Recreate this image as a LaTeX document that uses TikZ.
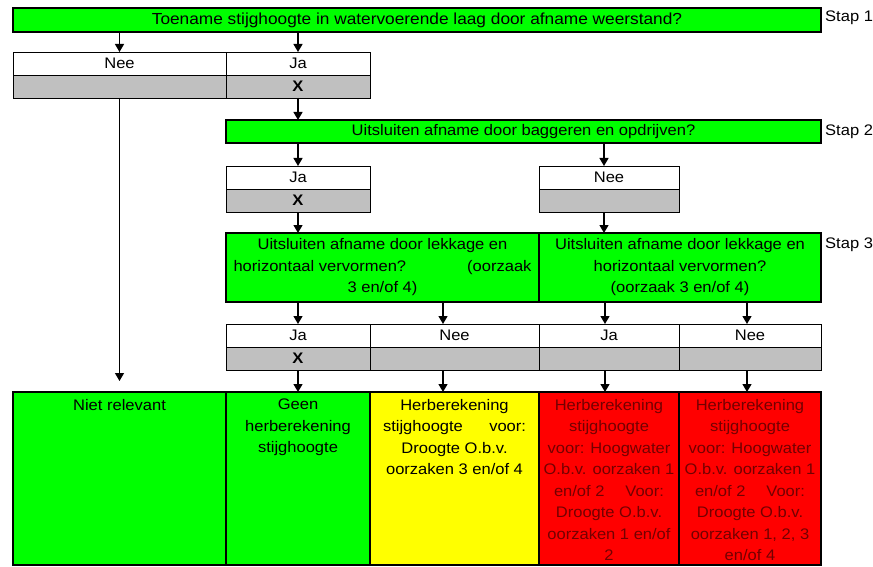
\documentclass[tikz,border=0pt]{standalone}
\usepackage{fontspec}
\setmainfont{Liberation Sans}[FakeStretch=1.08]
\usetikzlibrary{arrows.meta}
\definecolor{xlgreen}{RGB}{0,255,0}
\definecolor{xlyellow}{RGB}{255,255,0}
\definecolor{xlred}{RGB}{255,0,0}
\definecolor{xlgray}{RGB}{192,192,192}
\definecolor{xldarkred}{RGB}{115,0,0}
\begin{document}
\begin{tikzpicture}[x=1pt,y=-1pt,
  font=\fontsize{15.3}{21.5}\selectfont,
  cell/.style={draw, line width=0.9pt, inner sep=0pt, outer sep=0pt, anchor=north west},
  thickcell/.style={cell, line width=2.6pt},
  thickframe/.style={draw, line width=2.6pt},
  arr/.style={-{Triangle[length=8pt,width=9pt]}, line width=1.3pt},
  lbl/.style={anchor=west, inner sep=0pt},
  celltext/.style={anchor=north, inner sep=0pt, align=center},
]
\useasboundingbox (0,0) rectangle (873,567);

% Stap 1
\node[thickcell, fill=xlgreen, minimum width=808pt, minimum height=24pt] (q1) at (13,8) {\fontsize{16}{21.5}\selectfont Toename stijghoogte in watervoerende laag door afname weerstand?};
\node[lbl] (s1) at (825,18) {Stap 1};

\node[cell, fill=white, minimum width=213pt, minimum height=23pt] (nee1) at (13,52) {Nee};
\node[cell, fill=white, minimum width=144pt, minimum height=23pt] (ja1) at (226,52) {Ja};
\node[cell, fill=xlgray, minimum width=213pt, minimum height=23pt] (nee1g) at (13,75) {};
\node[cell, fill=xlgray, minimum width=144pt, minimum height=23pt] (ja1g) at (226,75) {\textbf{X}};

% Stap 2
\node[thickcell, fill=xlgreen, minimum width=595pt, minimum height=23pt] (q2) at (226,120) {Uitsluiten afname door baggeren en opdrijven?};
\node[lbl] (s2) at (825,132) {Stap 2};

\node[cell, fill=white, minimum width=144pt, minimum height=23pt] (ja2) at (226,166) {Ja};
\node[cell, fill=xlgray, minimum width=144pt, minimum height=23pt] (ja2g) at (226,189) {\textbf{X}};
\node[cell, fill=white, minimum width=140pt, minimum height=23pt] (nee2) at (539,166) {Nee};
\node[cell, fill=xlgray, minimum width=140pt, minimum height=23pt] (nee2g) at (539,189) {};

% Stap 3
\node[cell, line width=1.3pt, fill=xlgreen, minimum width=313pt, minimum height=69pt, align=center] (q3a) at (226,233)
  {Uitsluiten afname door lekkage en\\ \makebox[298pt]{horizontaal vervormen?\hfill(oorzaak}\\ 3 en/of 4)};
\node[cell, line width=1.3pt, fill=xlgreen, minimum width=282pt, minimum height=69pt, align=center] (q3b) at (539,233)
  {Uitsluiten afname door lekkage en\\ horizontaal vervormen?\\ (oorzaak 3 en/of 4)};
\draw[thickframe] (q3a.north west) rectangle (q3b.south east);
\node[lbl] (s3) at (825,245) {Stap 3};

\node[cell, fill=white, minimum width=144pt, minimum height=23pt] (ja3) at (226,324) {Ja};
\node[cell, fill=white, minimum width=169pt, minimum height=23pt] (nee3) at (370,324) {Nee};
\node[cell, fill=white, minimum width=140pt, minimum height=23pt] (ja3b) at (539,324) {Ja};
\node[cell, fill=white, minimum width=142pt, minimum height=23pt] (nee3b) at (679,324) {Nee};
\node[cell, fill=xlgray, minimum width=144pt, minimum height=23pt] (ja3g) at (226,347) {\textbf{X}};
\node[cell, fill=xlgray, minimum width=169pt, minimum height=23pt] (nee3g) at (370,347) {};
\node[cell, fill=xlgray, minimum width=140pt, minimum height=23pt] (ja3bg) at (539,347) {};
\node[cell, fill=xlgray, minimum width=142pt, minimum height=23pt] (nee3bg) at (679,347) {};

% results
\node[cell, line width=1.3pt, fill=xlgreen, minimum width=213pt, minimum height=173pt] (rNR) at (13,392) {};
\node[cell, line width=1.3pt, fill=xlgreen, minimum width=144pt, minimum height=173pt] (rG) at (226,392) {};
\node[cell, line width=1.3pt, fill=xlyellow, minimum width=169pt, minimum height=173pt] (rY) at (370,392) {};
\node[cell, line width=1.3pt, fill=xlred, minimum width=140pt, minimum height=173pt] (rR1) at (539,392) {};
\node[cell, line width=1.3pt, fill=xlred, minimum width=142pt, minimum height=173pt] (rR2) at (679,392) {};
\draw[thickframe] (rNR.north west) rectangle (rR2.south east);

\node[celltext] (tNR) at ([yshift=-7pt]rNR.north) {Niet relevant};
\node[celltext] (tG) at ([yshift=-7pt]rG.north) {Geen\\ herberekening\\ stijghoogte};
\node[celltext] (tY) at ([yshift=-7pt]rY.north) {Herberekening\\ \makebox[143pt]{stijghoogte\hfill voor:}\\ Droogte O.b.v.\\ oorzaken 3 en/of 4};
\node[celltext, text=xldarkred] (tR1) at ([yshift=-7pt]rR1.north) {Herberekening\\ stijghoogte\\ voor: Hoogwater\\ O.b.v. oorzaken 1\\ \makebox[110pt]{en/of 2\hfill Voor:}\\ Droogte O.b.v.\\ oorzaken 1 en/of\\ 2};
\node[celltext, text=xldarkred] (tR2) at ([yshift=-7pt]rR2.north) {Herberekening\\ stijghoogte\\ voor: Hoogwater\\ O.b.v. oorzaken 1\\ \makebox[110pt]{en/of 2\hfill Voor:}\\ Droogte O.b.v.\\ oorzaken 1, 2, 3\\ en/of 4};

% connectors
\coordinate (a2) at ([xshift=-5pt]nee2.north);
\coordinate (a2g) at ([xshift=-5pt]nee2g.south);
\coordinate (c3b) at ([xshift=-11.5pt]nee3.north);
\coordinate (c3bg) at ([xshift=-11.5pt]nee3g.south);
\coordinate (c3c) at ([xshift=-4pt]ja3b.north);
\coordinate (c3cg) at ([xshift=-4pt]ja3bg.south);
\coordinate (c3d) at ([xshift=-3pt]nee3b.north);
\coordinate (c3dg) at ([xshift=-3pt]nee3bg.south);
\coordinate (nrEnd) at (119.5,381);

\draw[arr] (q1.south -| nee1.north) -- (nee1.north);
\draw[arr] (q1.south -| ja1.north) -- (ja1.north);
\draw[arr] (ja1g.south) -- (q2.north -| ja1g.south);
\draw[arr] (nee1g.south) -- (nrEnd);
\draw[arr] (q2.south -| ja2.north) -- (ja2.north);
\draw[arr] (q2.south -| a2) -- (a2);
\draw[arr] (ja2g.south) -- (q3a.north -| ja2g.south);
\draw[arr] (a2g) -- (q3b.north -| a2g);
\draw[arr] (q3a.south -| ja3.north) -- (ja3.north);
\draw[arr] (q3a.south -| c3b) -- (c3b);
\draw[arr] (q3b.south -| c3c) -- (c3c);
\draw[arr] (q3b.south -| c3d) -- (c3d);
\draw[arr] (ja3g.south) -- (rG.north -| ja3g.south);
\draw[arr] (c3bg) -- (rY.north -| c3bg);
\draw[arr] (c3cg) -- (rR1.north -| c3cg);
\draw[arr] (c3dg) -- (rR2.north -| c3dg);
\end{tikzpicture}
\end{document}
